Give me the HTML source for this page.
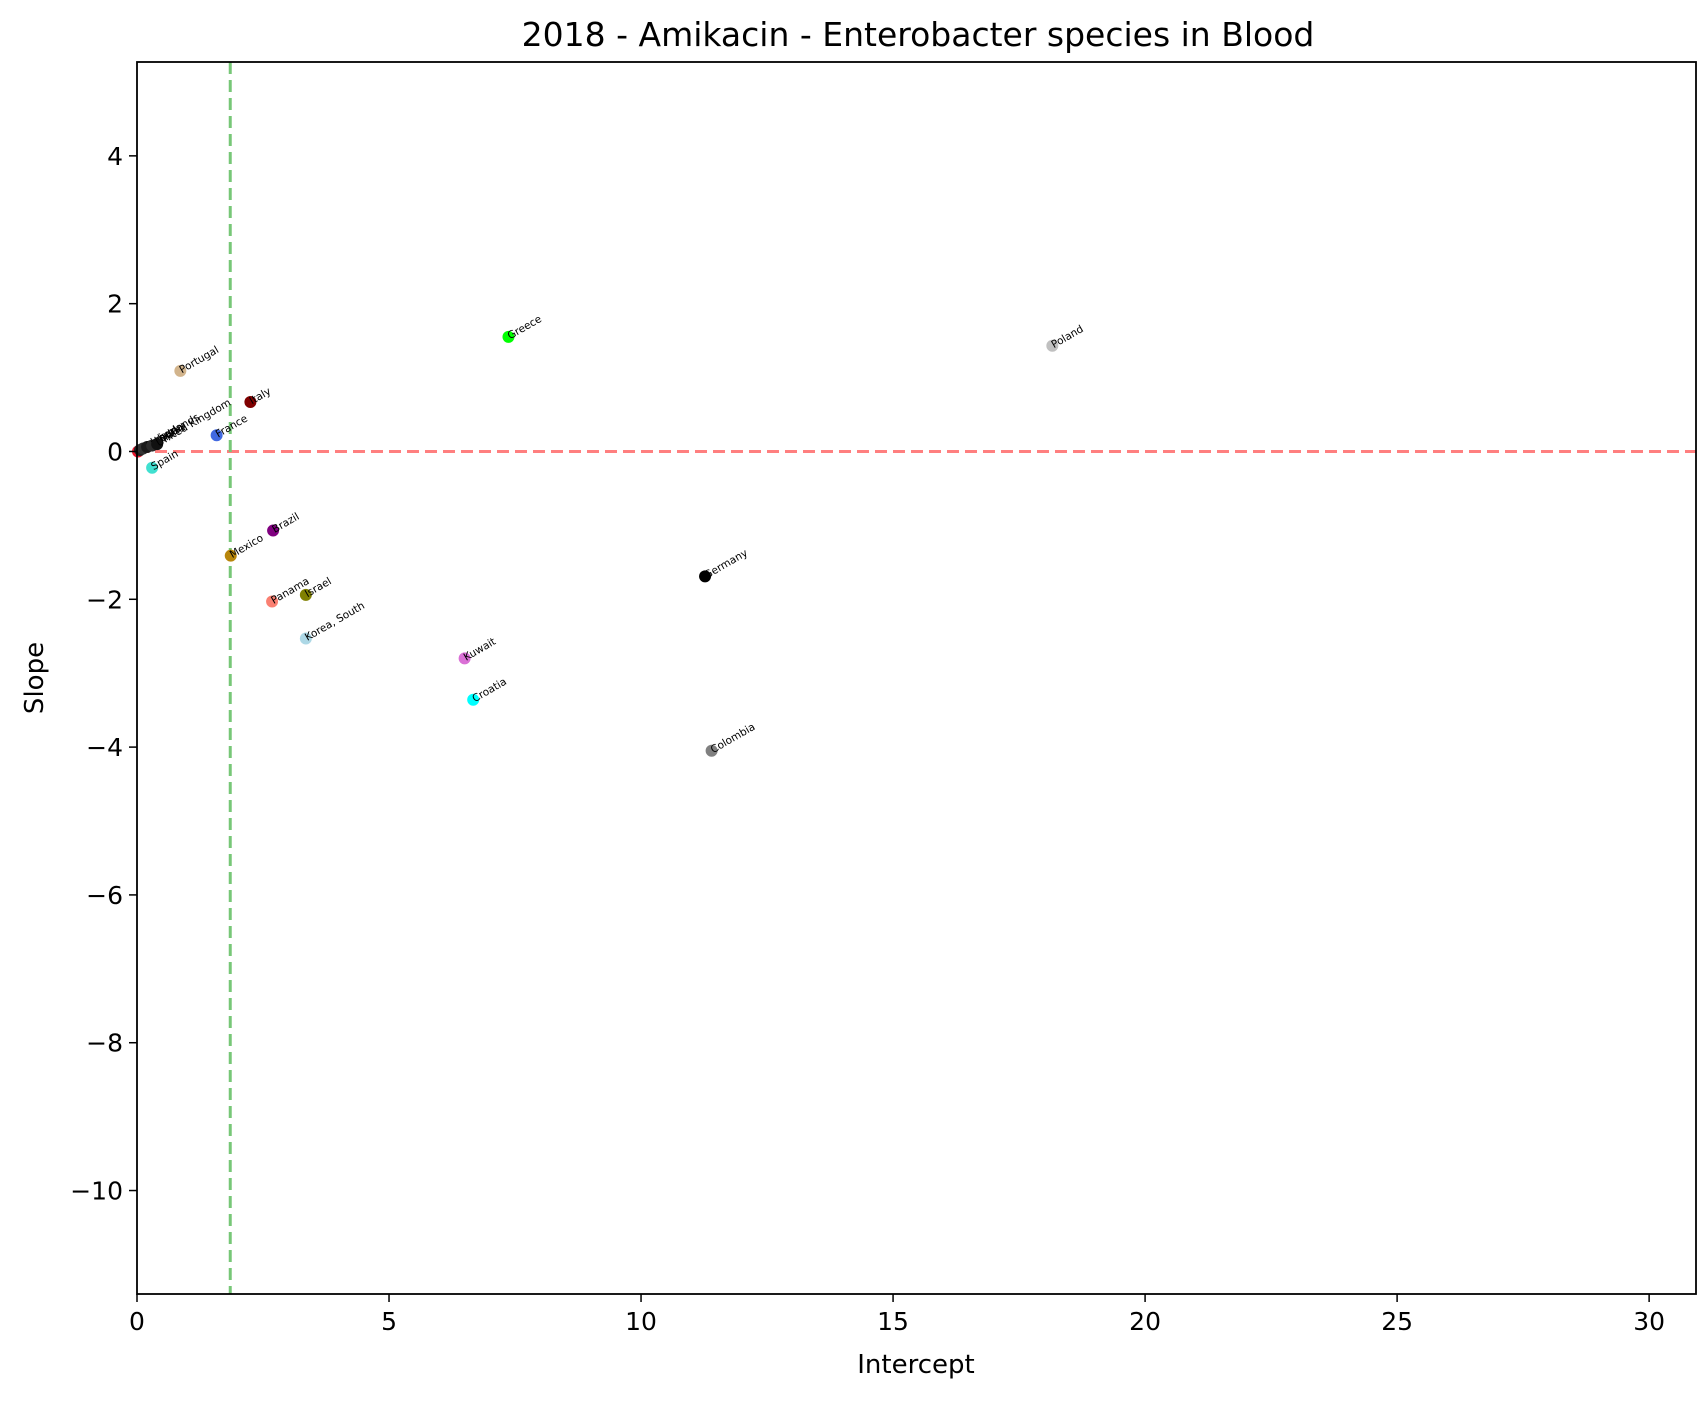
<!DOCTYPE html>
<html><head><meta charset="utf-8"><style>
html,body{margin:0;padding:0;background:#fff;}
svg{display:block;font-family:"DejaVu Sans","Liberation Sans",sans-serif;}
</style></head><body>
<svg id="chart" width="1707" height="1401" viewBox="0 0 1707 1401">
<rect width="1707" height="1401" fill="#fff"/>
<text x="918" y="46" font-size="33" text-anchor="middle">2018 - Amikacin - Enterobacter species in Blood</text>
<g id="plot"></g>
<text x="916" y="1373" font-size="26" text-anchor="middle">Intercept</text>
<text x="0" y="0" font-size="26" text-anchor="middle" transform="translate(43,678) rotate(-90)">Slope</text>
</svg>
<script>
const countries = ["Denmark","Belgium","Netherlands","Sweden","Finland","United Kingdom","Portugal","Italy","France","Spain","Greece","Poland","Brazil","Mexico","Panama","Israel","Korea, South","Kuwait","Croatia","Germany","Colombia"];
const intercepts = [0.02,0.06,0.12,0.2,0.3,0.4,0.86,2.25,1.58,0.30,7.37,18.16,2.70,1.86,2.68,3.35,3.35,6.50,6.67,11.27,11.40];
const slopes = [0.0,0.02,0.04,0.06,0.08,0.1,1.09,0.67,0.22,-0.22,1.55,1.43,-1.07,-1.41,-2.03,-1.94,-2.53,-2.80,-3.36,-1.69,-4.05];
const colors = ["#e8172e","#222","#333","#1a1a1a","#2b2b2b","#111","#d2b48c","#800000","#4169e1","#40e0d0","#00ff00","#c0c0c0","#800080","#b8860b","#fa8072","#808000","#add8e6","#da70d6","#00ffff","#000000","#808080"];
const xTicks = [0,5,10,15,20,25,30];
const yTicks = [4,2,0,-2,-4,-6,-8,-10];
const vLine = 1.85, hLine = 0;

const L=137,R=1696,T=62,B=1294;
const xMin=0,xMax=30.93,yMin=-11.40,yMax=5.27;
const sx=v=>L+(v-xMin)/(xMax-xMin)*(R-L);
const sy=v=>B-(v-yMin)/(yMax-yMin)*(B-T);
const g=document.getElementById('plot');
const NS="http://www.w3.org/2000/svg";
function mk(t,a){const e=document.createElementNS(NS,t);for(const k in a)e.setAttribute(k,a[k]);g.appendChild(e);return e;}

let hl=mk('line',{x1:L,x2:R,y1:sy(hLine),y2:sy(hLine),stroke:'#ff7f7f','stroke-width':3,'stroke-dasharray':'12,6'});


let vl=mk('line',{x1:sx(vLine),x2:sx(vLine),y1:T,y2:B,stroke:'#77c777','stroke-width':3,'stroke-dasharray':'12,6'});



countries.forEach((c,i)=>{
  const x=sx(intercepts[i]),y=sy(slopes[i]);
  const p=mk('circle',{cx:x,cy:y,r:6,fill:colors[i]});
  
  
  const t=mk('text',{x:0,y:3,'font-size':10.5,transform:`translate(${x},${y}) rotate(-30)`});
  t.textContent=c;
  
  
});

const fr=mk('rect',{x:L,y:T,width:R-L,height:B-T,fill:'none',stroke:'#000','stroke-width':1.8});



xTicks.forEach(v=>{
  const x=sx(v);
  mk('line',{x1:x,x2:x,y1:B,y2:B+8,stroke:'#000','stroke-width':1.5});
  const t=mk('text',{x:x,y:B+36,'font-size':25,'text-anchor':'middle'});
  t.textContent=v;
  
  
});
yTicks.forEach(v=>{
  const y=sy(v);
  mk('line',{x1:L-8,x2:L,y1:y,y2:y,stroke:'#000','stroke-width':1.5});
  const t=mk('text',{x:L-14,y:y+9,'font-size':25,'text-anchor':'end'});
  t.textContent=v<0?'\u2212'+Math.abs(v):v;
  
  
});
</script>
</body></html>
